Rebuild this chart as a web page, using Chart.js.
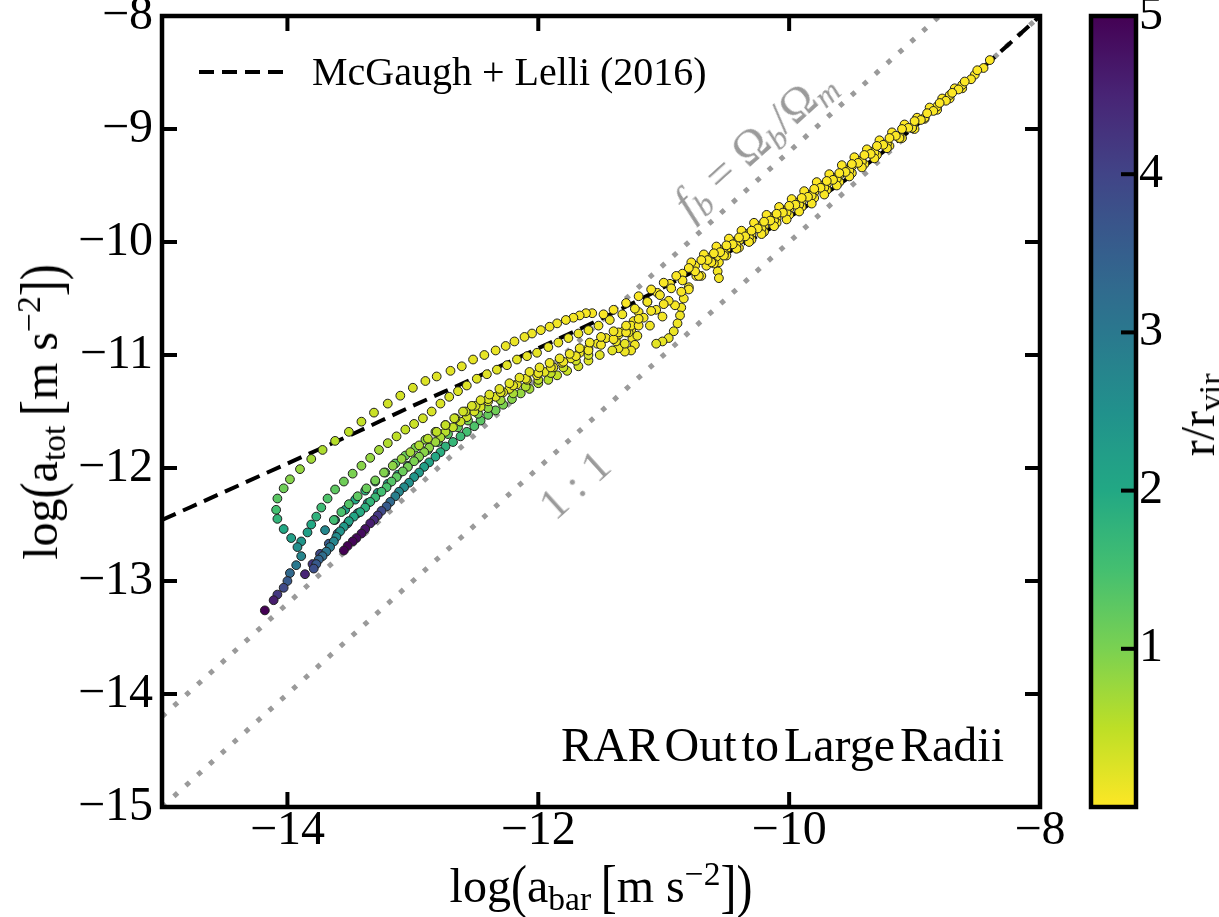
<!DOCTYPE html>
<html>
    <head>
        <meta charset="utf-8">
        <script src="https://cdn.jsdelivr.net/npm/chart.js@4.4.1/dist/chart.umd.min.js"></script>
        <title>RAR out to large radii</title>
        <style>
            body { margin: 0; background: #fff; }
            #figure { position: relative; width: 1219px; height: 917px; overflow: hidden; font-family: "Liberation Serif", "Times New Roman", serif; }
            #figure canvas { position: absolute; top: 0; }
            .label { position: absolute; white-space: nowrap; line-height: 1; font-size: 48px; color: #000; }
            .label sub, .label sup { font-size: 70%; line-height: 0; position: relative; vertical-align: baseline; }
            .label sub { top: 0.25em; }
            .label sup { top: -0.5em; }
            .tall { display: inline-block; transform: scaleY(1.25); }
            .gray { color: #9a9a9a; }
        </style>
    </head>
    <body>
        <div id="figure">
            <canvas id="rar_chart" width="1219" height="917" style="left:0"></canvas>
            <canvas id="cbar_chart" width="159" height="917" style="left:1060px"></canvas>

            <div class="label" id="xtitle">log<span class="tall">(</span>a<sub>bar</sub>&thinsp;<span class="tall">[</span>m s<sup>&minus;2</sup><span class="tall">]</span><span class="tall">)</span></div>
            <div class="label" id="ytitle">log<span class="tall">(</span>a<sub>tot</sub>&thinsp;<span class="tall">[</span>m s<sup>&minus;2</sup><span class="tall">]</span><span class="tall">)</span></div>
            <div class="label" id="ctitle">r/r<sub>vir</sub></div>

            <svg id="legend_line" width="84" height="8" style="position:absolute"><line x1="0" y1="4" x2="84" y2="4" stroke="#000" stroke-width="4" stroke-dasharray="15 8"/></svg>
            <div class="label" id="legend_text" style="font-size:40px">McGaugh + Lelli (2016)</div>

            <div class="label" id="rar_text" style="word-spacing:-7px">RAR Out to Large Radii</div>
            <div class="label gray" id="fb_text" style="font-size:46px"><i>f</i><sub><i>b</i></sub> = &Omega;<sub><i>b</i></sub>/&Omega;<sub><i>m</i></sub></div>
            <div class="label gray" id="one_text" style="font-size:44px">1 : 1</div>
        </div>

        <script type="text/javascript">
            // ---------------- data ----------------
            var xTicks = [-14, -12, -10, -8];
            var yTicks = [-15, -14, -13, -12, -11, -10, -9, -8];
            var cbarTicks = [1, 2, 3, 4, 5];
            var rMin = 0, rMax = 5;

            // McGaugh + Lelli (2016) dashed curve
            var mondX = [-15, -14.5, -14, -13.5, -13, -12.5, -12, -11.5, -11, -10.5, -10, -9.5, -9, -8.5, -8];
            var mondY = [-12.46, -12.21, -11.96, -11.71, -11.45, -11.20, -10.94, -10.68, -10.40, -10.10, -9.78, -9.41, -8.98, -8.50, -8.00];

            // dotted guide lines
            var oneX = [-15, -8];
            var oneY = [-15, -8];
            var fbX = [-15, -8.8];
            var fbY = [-14.2, -8.0];

            // galaxy 1: band, then the arc that loops down to the purple tail
            var gal1X = [-8.40,-8.50,-8.60,-8.70,-8.80,-8.90,-9.00,-9.10,-9.20,-9.30,-9.40,-9.50,-9.60,-9.70,-9.80,-9.90,-10.00,-10.10,-10.20,-10.30,-10.40,-10.50,-10.60,-10.70,-10.80,-10.90,-11.00,-11.10,-11.20,-11.30,-11.40,-11.48,
                -11.57,-11.62,-11.67,-11.72,-11.78,-11.85,-11.91,-11.98,-12.05,-12.11,-12.19,-12.26,-12.34,-12.43,-12.52,-12.61,-12.70,-12.81,-12.90,-13.00,-13.10,-13.20,-13.31,-13.41,-13.51,-13.62,-13.72,-13.81,-13.90,-13.98,-14.03,-14.08,-14.09,-14.08,-14.03,-13.97,-13.89,-13.92,-13.89,-13.93,-13.98,-14.00,-14.03,-14.08,-14.11,-14.18];
            var gal1Y = [-8.39,-8.48,-8.58,-8.68,-8.77,-8.86,-8.93,-9.00,-9.08,-9.15,-9.23,-9.31,-9.39,-9.46,-9.53,-9.61,-9.68,-9.75,-9.82,-9.90,-9.96,-10.03,-10.10,-10.16,-10.23,-10.30,-10.36,-10.42,-10.48,-10.54,-10.60,-10.64,
                -10.63,-10.63,-10.65,-10.67,-10.69,-10.72,-10.75,-10.78,-10.81,-10.84,-10.88,-10.92,-10.96,-11.00,-11.04,-11.10,-11.14,-11.19,-11.23,-11.29,-11.36,-11.43,-11.51,-11.59,-11.68,-11.76,-11.84,-11.92,-12.01,-12.10,-12.18,-12.27,-12.37,-12.45,-12.54,-12.62,-12.65,-12.70,-12.78,-12.86,-12.93,-13.00,-13.06,-13.12,-13.17,-13.26];
            var gal1R = [0.01,0.01,0.01,0.01,0.01,0.01,0.01,0.01,0.01,0.01,0.01,0.01,0.01,0.01,0.01,0.01,0.02,0.02,0.02,0.02,0.02,0.02,0.02,0.02,0.02,0.02,0.02,0.02,0.02,0.02,0.02,0.02,
                0.04,0.05,0.06,0.07,0.08,0.09,0.10,0.11,0.12,0.13,0.14,0.15,0.16,0.17,0.18,0.20,0.22,0.24,0.26,0.30,0.33,0.36,0.40,0.45,0.50,0.55,0.62,0.70,0.80,0.92,1.10,1.30,1.50,1.75,2.00,2.20,2.40,2.55,2.75,3.00,3.30,3.60,3.90,4.20,4.60,5.00];

            // galaxy 2: upper edge of the fan
            var gal2X = [-8.45,-8.55,-8.65,-8.75,-8.85,-8.95,-9.05,-9.15,-9.25,-9.35,-9.45,-9.55,-9.65,-9.75,-9.85,-9.95,-10.05,-10.15,-10.25,-10.35,-10.45,-10.55,-10.65,-10.75,
                -10.85,-10.94,-11.03,-11.13,-11.23,-11.33,-11.43,-11.52,-11.60,-11.68,-11.76,-11.84,-11.92,-12.01,-12.09,-12.17,-12.25,-12.33,-12.41,-12.49,-12.57,-12.64,-12.71,-12.78,-12.85,-12.92,-12.99,-13.06,-13.13,-13.20,-13.27,-13.34,-13.41,-13.48,-13.55,-13.62,-13.68,-13.73,-13.77,-13.81,-13.84];
            var gal2Y = [-8.46,-8.56,-8.65,-8.75,-8.84,-8.92,-8.99,-9.06,-9.14,-9.22,-9.30,-9.38,-9.45,-9.52,-9.60,-9.67,-9.74,-9.81,-9.88,-9.95,-10.02,-10.09,-10.16,-10.26,
                -10.34,-10.41,-10.47,-10.53,-10.59,-10.64,-10.69,-10.74,-10.78,-10.81,-10.85,-10.89,-10.93,-10.98,-11.01,-11.04,-11.09,-11.13,-11.17,-11.21,-11.27,-11.32,-11.37,-11.43,-11.50,-11.56,-11.61,-11.66,-11.72,-11.78,-11.84,-11.91,-11.98,-12.05,-12.12,-12.19,-12.27,-12.35,-12.43,-12.50,-12.57];
            var gal2R = [0.02,0.02,0.02,0.02,0.02,0.02,0.02,0.02,0.02,0.02,0.02,0.02,0.03,0.03,0.03,0.03,0.03,0.03,0.03,0.03,0.03,0.03,0.03,0.03,
                0.05,0.06,0.07,0.08,0.09,0.10,0.11,0.12,0.13,0.14,0.15,0.16,0.17,0.18,0.19,0.20,0.21,0.22,0.23,0.24,0.25,0.26,0.27,0.28,0.30,0.35,0.40,0.45,0.50,0.60,0.70,0.80,0.90,1.00,1.10,1.25,1.40,1.60,1.80,2.00,2.20];

            // galaxy 3: middle stream of the fan
            var gal3X = [-8.62,-8.72,-8.82,-8.92,-9.02,-9.12,-9.22,-9.32,-9.42,-9.52,-9.62,-9.72,-9.82,-9.92,-10.02,-10.12,-10.22,-10.32,-10.42,-10.52,-10.62,-10.72,
                -10.86,-10.96,-11.06,-11.16,-11.26,-11.36,-11.46,-11.53,-11.60,-11.67,-11.74,-11.81,-11.88,-11.95,-12.01,-12.09,-12.17,-12.23,-12.28,-12.34,-12.40,-12.46,-12.51,-12.57,-12.62,-12.68,-12.74,-12.78,-12.82,-12.87,-12.91,-12.95,-12.99,-13.04,-13.08,-13.13,-13.17,-13.21,-13.25,-13.30,-13.34,-13.38,-13.42,-13.47,-13.51,-13.55,-13.58,-13.61,-13.63,-13.66,-13.69,-13.72,-13.75,-13.77,-13.79];
            var gal3Y = [-8.64,-8.73,-8.83,-8.91,-8.99,-9.06,-9.13,-9.21,-9.29,-9.37,-9.44,-9.52,-9.59,-9.67,-9.74,-9.81,-9.88,-9.96,-10.03,-10.10,-10.17,-10.30,
                -10.44,-10.52,-10.60,-10.67,-10.74,-10.80,-10.85,-10.90,-10.94,-10.98,-11.03,-11.07,-11.11,-11.15,-11.18,-11.22,-11.26,-11.30,-11.33,-11.37,-11.41,-11.46,-11.50,-11.55,-11.59,-11.64,-11.68,-11.73,-11.77,-11.82,-11.86,-11.90,-11.94,-11.99,-12.03,-12.08,-12.12,-12.17,-12.21,-12.26,-12.30,-12.35,-12.39,-12.43,-12.47,-12.52,-12.56,-12.61,-12.65,-12.70,-12.74,-12.78,-12.81,-12.85,-12.89];
            var gal3R = [0.03,0.03,0.03,0.03,0.03,0.03,0.03,0.03,0.03,0.03,0.03,0.03,0.03,0.03,0.03,0.03,0.03,0.03,0.03,0.03,0.03,0.03,
                0.05,0.06,0.07,0.08,0.09,0.10,0.11,0.12,0.13,0.14,0.15,0.16,0.17,0.18,0.19,0.20,0.21,0.22,0.23,0.24,0.25,0.27,0.30,
                0.35,0.40,0.45,0.55,0.65,0.75,0.85,0.90,0.95,1.00,1.05,1.15,1.25,1.35,1.45,1.55,1.65,1.75,1.85,1.95,2.05,2.15,2.30,2.45,2.60,2.75,2.90,3.05,3.20,3.40,3.60,3.80];

            // galaxy 4: lowest stream, ends in the purple clump
            var gal4X = [-9.00,-9.10,-9.20,-9.30,-9.40,-9.50,-9.60,-9.70,-9.80,-9.90,-10.00,-10.10,-10.20,-10.30,-10.40,-10.50,-10.60,-10.70,-10.80,
                -10.91,-11.01,-11.11,-11.21,-11.31,-11.41,-11.51,-11.60,-11.68,-11.77,-11.85,-11.92,-12.00,-12.07,-12.14,-12.21,-12.28,-12.34,-12.40,-12.46,-12.51,-12.57,-12.62,-12.68,-12.74,-12.78,-12.82,-12.87,-12.91,-12.95,-12.99,-13.03,-13.07,-13.11,-13.14,-13.18,-13.21,-13.25,-13.28,-13.31,-13.34,-13.38,-13.41,-13.45,-13.48,-13.52,-13.55];
            var gal4Y = [-9.00,-9.08,-9.15,-9.23,-9.31,-9.39,-9.47,-9.54,-9.61,-9.69,-9.76,-9.83,-9.91,-9.98,-10.05,-10.12,-10.19,-10.30,-10.42,
                -10.56,-10.66,-10.74,-10.83,-10.90,-10.96,-11.00,-11.05,-11.10,-11.14,-11.18,-11.22,-11.25,-11.30,-11.34,-11.39,-11.44,-11.49,-11.53,-11.58,-11.63,-11.68,-11.72,-11.77,-11.81,-11.86,-11.90,-11.95,-11.99,-12.04,-12.08,-12.13,-12.17,-12.21,-12.25,-12.30,-12.34,-12.38,-12.42,-12.46,-12.49,-12.54,-12.58,-12.62,-12.65,-12.69,-12.73];
            var gal4R = [0.03,0.03,0.03,0.03,0.03,0.03,0.03,0.03,0.03,0.03,0.03,0.03,0.03,0.03,0.03,0.03,0.03,0.03,0.03,
                0.05,0.08,0.11,0.14,0.17,0.20,0.23,0.26,0.30,0.40,0.45,0.55,0.60,0.70,0.80,0.90,1.00,1.10,1.20,1.30,1.40,1.50,1.60,1.70,1.80,1.90,2.00,2.10,2.20,2.30,2.40,2.50,2.60,2.70,2.85,3.30,3.60,3.90,4.20,4.40,4.60,4.75,4.85,4.90,4.95,5.00,5.00];

            // galaxy 5: hook dropping below the band near -10.9
            var gal5X = [-9.50,-9.60,-9.70,-9.80,-9.90,-10.00,-10.10,-10.20,-10.30,-10.40,-10.50,-10.58,-10.66,-10.74,-10.80,-10.84,-10.86,-10.87,-10.89,-10.92,-10.96,-11.01,-11.06];
            var gal5Y = [-9.33,-9.41,-9.49,-9.56,-9.64,-9.71,-9.79,-9.86,-9.93,-9.99,-10.06,-10.13,-10.21,-10.30,-10.40,-10.50,-10.58,-10.65,-10.72,-10.79,-10.85,-10.88,-10.90];
            var gal5R = [0.02,0.02,0.02,0.02,0.03,0.03,0.03,0.03,0.04,0.04,0.04,0.05,0.05,0.06,0.07,0.08,0.09,0.10,0.12,0.14,0.16,0.18,0.20];

            // galaxy 6: small loop near -11.3
            var gal6X = [-10.05,-10.15,-10.25,-10.35,-10.45,-10.55,-10.65,-10.75,-10.85,-10.95,-11.05,-11.13,-11.20,-11.24,-11.26,-11.25,-11.23,-11.26,-11.31,-11.36,-11.38,-11.36,-11.32,-11.28];
            var gal6Y = [-9.72,-9.79,-9.86,-9.93,-10.00,-10.07,-10.14,-10.21,-10.28,-10.37,-10.45,-10.53,-10.62,-10.70,-10.78,-10.85,-10.91,-10.96,-10.97,-10.94,-10.88,-10.82,-10.79,-10.80];
            var gal6R = [0.03,0.03,0.03,0.03,0.03,0.03,0.03,0.03,0.03,0.03,0.03,0.05,0.06,0.07,0.08,0.09,0.10,0.11,0.12,0.13,0.14,0.15,0.16,0.17];

            // galaxy 7: short hook near -10.57
            var gal7X = [-9.35,-9.45,-9.55,-9.65,-9.75,-9.85,-9.95,-10.05,-10.15,-10.25,-10.35,-10.45,-10.52,-10.56,-10.57,-10.56];
            var gal7Y = [-9.20,-9.28,-9.36,-9.43,-9.50,-9.58,-9.65,-9.72,-9.78,-9.86,-9.93,-10.00,-10.09,-10.18,-10.26,-10.32];
            var gal7R = [0.02,0.02,0.02,0.02,0.02,0.02,0.03,0.03,0.03,0.03,0.03,0.04,0.04,0.05,0.06,0.07];

            // galaxy 8: stream between the upper edge and the middle
            var gal8X = [-11.00,-11.10,-11.20,-11.30,-11.40,-11.50,-11.59,-11.67,-11.75,-11.83,-11.91,-11.99,-12.07,-12.15,-12.23,-12.31,-12.39,-12.46,-12.53,-12.60,-12.67,-12.74,-12.81,-12.88,-12.95,-13.02,-13.09,-13.16,-13.23,-13.30,-13.37,-13.44,-13.51,-13.57,-13.63];
            var gal8Y = [-10.55,-10.61,-10.68,-10.74,-10.79,-10.84,-10.89,-10.94,-10.99,-11.03,-11.07,-11.11,-11.15,-11.20,-11.25,-11.30,-11.35,-11.40,-11.45,-11.50,-11.56,-11.62,-11.68,-11.74,-11.80,-11.86,-11.92,-11.98,-12.04,-12.11,-12.18,-12.25,-12.32,-12.39,-12.46];
            var gal8R = [0.05,0.06,0.07,0.08,0.09,0.10,0.11,0.12,0.13,0.14,0.15,0.16,0.17,0.18,0.20,0.22,0.24,0.26,0.30,0.35,0.40,0.45,0.50,0.55,0.62,0.70,0.78,0.86,0.95,1.05,1.15,1.25,1.35,1.45,1.55];

            // galaxy 9: green stream just above the middle one
            var gal9X = [-11.20,-11.30,-11.40,-11.50,-11.60,-11.70,-11.80,-11.90,-12.00,-12.10,-12.20,-12.30,-12.40,-12.50,-12.58,-12.66,-12.74,-12.82,-12.90,-12.98,-13.06,-13.14,-13.22,-13.30,-13.38,-13.46,-13.54,-13.62,-13.70];
            var gal9Y = [-10.74,-10.80,-10.86,-10.91,-10.96,-11.01,-11.06,-11.11,-11.16,-11.21,-11.27,-11.33,-11.39,-11.45,-11.50,-11.56,-11.62,-11.68,-11.75,-11.82,-11.89,-11.96,-12.04,-12.12,-12.20,-12.28,-12.37,-12.46,-12.55];
            var gal9R = [0.05,0.06,0.07,0.08,0.09,0.10,0.12,0.14,0.16,0.18,0.20,0.24,0.28,0.34,0.42,0.50,0.60,0.72,0.85,1.00,1.15,1.30,1.45,1.60,1.80,2.00,2.20,2.45,2.70];

            // galaxy 10: teal stream between the middle and the lowest one
            var gal10X = [-11.60,-11.70,-11.80,-11.90,-12.00,-12.10,-12.20,-12.30,-12.40,-12.48,-12.56,-12.64,-12.72,-12.80,-12.88,-12.96,-13.04,-13.12,-13.20,-13.28,-13.36,-13.44,-13.52,-13.60,-13.67,-13.74,-13.80,-13.86];
            var gal10Y = [-11.00,-11.05,-11.11,-11.16,-11.22,-11.28,-11.34,-11.40,-11.47,-11.52,-11.58,-11.64,-11.70,-11.77,-11.84,-11.91,-11.98,-12.06,-12.14,-12.22,-12.31,-12.40,-12.49,-12.58,-12.67,-12.76,-12.85,-12.94];
            var gal10R = [0.30,0.35,0.40,0.45,0.50,0.58,0.66,0.75,0.85,0.95,1.05,1.15,1.25,1.38,1.50,1.65,1.80,1.95,2.10,2.30,2.50,2.75,3.00,3.30,3.60,3.90,4.20,4.50];

            // galaxy 11: extra points thickening the inner band (upper side)
            var gal11X = [-8.68,-8.78,-8.88,-8.98,-9.08,-9.18,-9.28,-9.38,-9.48,-9.58,-9.68,-9.78,-9.88,-9.98,-10.08,-10.18,-10.28,-10.38,-10.48,-10.58,-10.68,-10.78];
            var gal11Y = [-8.64,-8.73,-8.81,-8.90,-8.96,-9.03,-9.10,-9.18,-9.25,-9.32,-9.40,-9.47,-9.55,-9.62,-9.69,-9.76,-9.83,-9.90,-9.97,-10.04,-10.11,-10.18];
            var gal11R = [0.01,0.01,0.01,0.01,0.01,0.01,0.01,0.01,0.01,0.01,0.01,0.01,0.01,0.01,0.01,0.01,0.01,0.01,0.01,0.01,0.01,0.01];

            // galaxy 12: lower side of the inner band, lying over the dashed curve
            var gal12X = [-8.52,-8.62,-8.72,-8.82,-8.92,-9.02,-9.12,-9.22,-9.32,-9.42,-9.52,-9.62,-9.72,-9.82,-9.92,-10.02,-10.12,-10.22,-10.32,-10.42,-10.52,-10.62];
            var gal12Y = [-8.52,-8.61,-8.70,-8.80,-8.90,-8.99,-9.08,-9.17,-9.26,-9.34,-9.42,-9.50,-9.58,-9.66,-9.73,-9.80,-9.86,-9.93,-10.00,-10.06,-10.12,-10.18];
            var gal12R = [0.02,0.02,0.02,0.02,0.02,0.02,0.02,0.02,0.02,0.02,0.02,0.03,0.03,0.03,0.03,0.03,0.03,0.03,0.03,0.03,0.03,0.03];

            var galaxies = [
                [gal1X, gal1Y, gal1R], [gal2X, gal2Y, gal2R], [gal11X, gal11Y, gal11R], [gal12X, gal12Y, gal12R],
                [gal8X, gal8Y, gal8R], [gal9X, gal9Y, gal9R], [gal3X, gal3Y, gal3R], [gal10X, gal10Y, gal10R],
                [gal4X, gal4Y, gal4R], [gal5X, gal5Y, gal5R], [gal6X, gal6Y, gal6R], [gal7X, gal7Y, gal7R]
            ];

            // ---------------- styling helpers ----------------
            var serif = "'Liberation Serif', 'Times New Roman', serif";
            var viridis = ['#440154','#482475','#414487','#355f8d','#2a788e','#21918c','#22a884','#44bf70','#7ad151','#bddf26','#fde725'];

            function hexToRgb(h){
                return [parseInt(h.substr(1,2),16), parseInt(h.substr(3,2),16), parseInt(h.substr(5,2),16)];
            }
            // t = 0 -> purple, t = 1 -> yellow
            function viridisColor(t){
                t = Math.min(Math.max(t, 0), 1);
                var p = t * (viridis.length - 1);
                var i = Math.min(Math.floor(p), viridis.length - 2);
                var f = p - i;
                var a = hexToRgb(viridis[i]), b = hexToRgb(viridis[i+1]);
                return 'rgb(' + Math.round(a[0]+(b[0]-a[0])*f) + ',' + Math.round(a[1]+(b[1]-a[1])*f) + ',' + Math.round(a[2]+(b[2]-a[2])*f) + ')';
            }
            // reversed map: small r/r_vir yellow, large purple
            function rColor(r){
                return viridisColor(1 - (r - rMin) / (rMax - rMin));
            }
            function zip(xs, ys){
                var out = [];
                for (var i = 0; i < Math.min(xs.length, ys.length); i++) out.push({x: xs[i], y: ys[i]});
                return out;
            }
            function minusSign(v){
                return v < 0 ? '\u2212' + Math.abs(v) : String(v);
            }

            var datasets = galaxies.map(function(g){
                return {
                    data: zip(g[0], g[1]),
                    pointBackgroundColor: g[2].map(rColor),
                    pointBorderColor: '#1e1e1e',
                    pointBorderWidth: 1,
                    pointRadius: 4.4,
                    showLine: false,
                    order: 0
                };
            });
            datasets.push({
                data: zip(mondX, mondY), showLine: true, borderColor: '#000', borderWidth: 4,
                borderDash: [15, 8], pointRadius: 0, cubicInterpolationMode: 'monotone', order: 2
            });
            datasets.push({
                data: zip(fbX, fbY), showLine: true, borderColor: '#9a9a9a', borderWidth: 5,
                borderDash: [5, 11], pointRadius: 0, order: 3
            });
            datasets.push({
                data: zip(oneX, oneY), showLine: true, borderColor: '#9a9a9a', borderWidth: 5,
                borderDash: [5, 11], pointRadius: 0, order: 3
            });

            // box with inward ticks on all four sides
            var framePlugin = {
                id: 'frame',
                afterDraw: function(chart){
                    var ctx = chart.ctx, a = chart.chartArea, sx = chart.scales.x, sy = chart.scales.y;
                    ctx.save();
                    ctx.strokeStyle = '#000';
                    ctx.lineWidth = 4;
                    xTicks.forEach(function(v){
                        var p = sx.getPixelForValue(v);
                        ctx.beginPath(); ctx.moveTo(p, a.bottom); ctx.lineTo(p, a.bottom - 15); ctx.stroke();
                        ctx.beginPath(); ctx.moveTo(p, a.top); ctx.lineTo(p, a.top + 15); ctx.stroke();
                    });
                    yTicks.forEach(function(v){
                        var p = sy.getPixelForValue(v);
                        ctx.beginPath(); ctx.moveTo(a.left, p); ctx.lineTo(a.left + 15, p); ctx.stroke();
                        ctx.beginPath(); ctx.moveTo(a.right, p); ctx.lineTo(a.right - 15, p); ctx.stroke();
                    });
                    ctx.lineWidth = 4.5;
                    ctx.strokeRect(a.left, a.top, a.right - a.left, a.bottom - a.top);
                    ctx.restore();
                }
            };

            var tickFont = {family: serif, size: 48, lineHeight: 1};

            var rarChart = new Chart(document.getElementById('rar_chart'), {
                type: 'scatter',
                data: {datasets: datasets},
                options: {
                    responsive: false,
                    animation: false,
                    layout: {padding: {left: 0, right: 179, top: 16, bottom: 0}},
                    plugins: {legend: {display: false}, tooltip: {enabled: false}},
                    scales: {
                        x: {
                            type: 'linear', min: -15, max: -8,
                            afterBuildTicks: function(s){ s.ticks = xTicks.map(function(v){ return {value: v}; }); },
                            afterFit: function(s){ s.height = 110; s.paddingLeft = 0; s.paddingRight = 0; },
                            grid: {display: false, drawTicks: false},
                            border: {display: false},
                            ticks: {autoSkip: false, maxRotation: 0, padding: 0, color: '#000', font: tickFont, callback: minusSign}
                        },
                        y: {
                            type: 'linear', min: -15, max: -8,
                            afterBuildTicks: function(s){ s.ticks = yTicks.map(function(v){ return {value: v}; }); },
                            afterFit: function(s){ s.width = 162; s.paddingTop = 0; s.paddingBottom = 0; },
                            grid: {display: false, drawTicks: false},
                            border: {display: false},
                            ticks: {autoSkip: false, padding: 9, color: '#000', font: tickFont, callback: minusSign}
                        }
                    }
                },
                plugins: [framePlugin]
            });

            // ---------------- colour bar ----------------
            var cbarPlugin = {
                id: 'cbarFrame',
                afterDraw: function(chart){
                    var ctx = chart.ctx, a = chart.chartArea, sy = chart.scales.y;
                    ctx.save();
                    ctx.strokeStyle = '#000';
                    ctx.lineWidth = 4;
                    cbarTicks.forEach(function(v){
                        var p = sy.getPixelForValue(v);
                        ctx.beginPath(); ctx.moveTo(a.right - 15, p); ctx.lineTo(a.right, p); ctx.stroke();
                    });
                    ctx.lineWidth = 4.5;
                    ctx.strokeRect(a.left, a.top, a.right - a.left, a.bottom - a.top);
                    ctx.restore();
                }
            };

            var cbarChart = new Chart(document.getElementById('cbar_chart'), {
                type: 'bar',
                data: {
                    labels: ['r'],
                    datasets: [{
                        data: [[rMin, rMax]],
                        borderWidth: 0,
                        barPercentage: 1,
                        categoryPercentage: 1,
                        backgroundColor: function(c){
                            var a = c.chart.chartArea;
                            if (!a) return '#888';
                            var g = c.chart.ctx.createLinearGradient(0, a.bottom, 0, a.top);
                            for (var i = 0; i <= 20; i++) g.addColorStop(i / 20, viridisColor(1 - i / 20));
                            return g;
                        }
                    }]
                },
                options: {
                    responsive: false,
                    animation: false,
                    layout: {padding: {left: 31, right: 0, top: 16, bottom: 110}},
                    plugins: {legend: {display: false}, tooltip: {enabled: false}},
                    scales: {
                        x: {display: false},
                        y: {
                            position: 'right', min: rMin, max: rMax,
                            afterBuildTicks: function(s){ s.ticks = cbarTicks.map(function(v){ return {value: v}; }); },
                            afterFit: function(s){ s.width = 83; s.paddingTop = 0; s.paddingBottom = 0; },
                            grid: {display: false, drawTicks: false},
                            border: {display: false},
                            ticks: {autoSkip: false, padding: 3, color: '#000', font: tickFont}
                        }
                    }
                },
                plugins: [cbarPlugin]
            });

            // ---------------- text placed through the scales ----------------
            function place(id, px, py, rot, ax){
                var el = document.getElementById(id);
                el.style.left = px + 'px';
                el.style.top = py + 'px';
                el.style.transform = 'translate(' + (ax || '-50%') + ',-50%) rotate(' + (rot || 0) + 'deg)';
            }
            var area = rarChart.chartArea, sx = rarChart.scales.x, sy = rarChart.scales.y;
            var slope = Math.atan2(sy.getPixelForValue(-9) - sy.getPixelForValue(-8), sx.getPixelForValue(-8) - sx.getPixelForValue(-9)) * 180 / Math.PI;

            place('xtitle', (area.left + area.right) / 2, 886, 0);
            place('ytitle', 41, (area.top + area.bottom) / 2, -90);
            place('ctitle', 1198, 415, -90);
            var ll = document.getElementById('legend_line');
            ll.style.left = '199px'; ll.style.top = '68px';
            place('legend_text', 312, 72, 0, '0%');
            place('rar_text', 1004, 745, 0, '-100%');
            place('fb_text', sx.getPixelForValue(-10.28), sy.getPixelForValue(-9.12), -slope);
            place('one_text', sx.getPixelForValue(-11.71), sy.getPixelForValue(-12.15), -slope);
        </script>
    </body>
</html>
